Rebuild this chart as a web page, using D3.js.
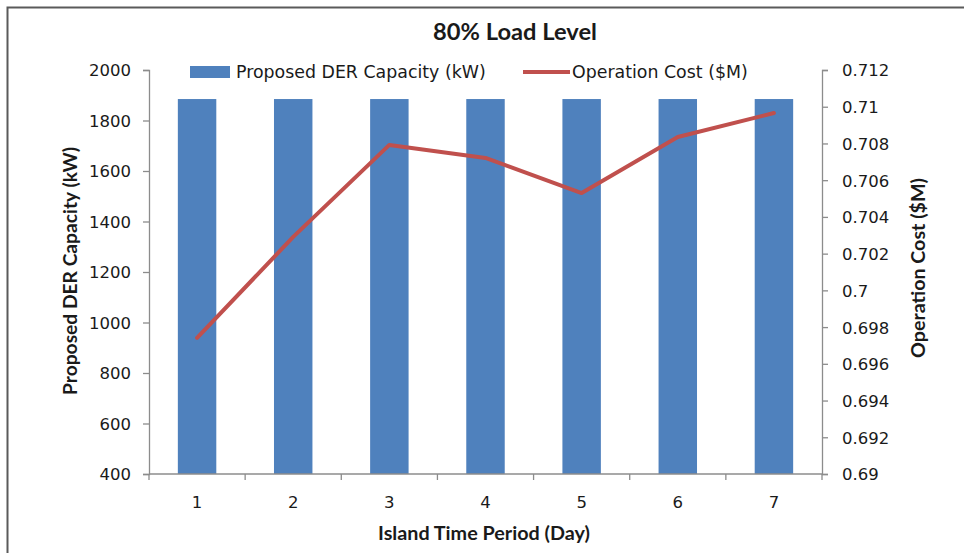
<!DOCTYPE html>
<html>
<head>
<meta charset="utf-8">
<script src="https://cdn.jsdelivr.net/npm/d3@7"></script>
<style>
  html, body { margin: 0; padding: 0; background: #fff; }
  svg { display: block; }
  text { fill: #1a1a1a; }
</style>
</head>
<body>
<svg id="chart" width="964" height="553"></svg>
<script>
// Island duration in days
const days = ["1", "2", "3", "4", "5", "6", "7"];
// Proposed DER capacity (kW) for each island duration
const derCapacity = [1885, 1885, 1885, 1885, 1885, 1885, 1885];
// Operation cost ($M) for each island duration
const operationCost = [0.69741, 0.70291, 0.70792, 0.70721, 0.7053, 0.70835, 0.70966];
// Axis tick values
const leftTicks = [400, 600, 800, 1000, 1200, 1400, 1600, 1800, 2000];
const rightTicks = [0.69, 0.692, 0.694, 0.696, 0.698, 0.7, 0.702, 0.704, 0.706, 0.708, 0.71, 0.712];

const svg = d3.select("#chart");
const W = 964, H = 553;
const margin = { left: 149, right: 142, top: 70, bottom: 79 };
const x0 = margin.left, x1 = W - margin.right;
const y0 = H - margin.bottom, y1 = margin.top;

const barColor = "#4f81bd";
const lineColor = "#c0504d";
const axisColor = "#8c8c8c";
const tickFont = '"DejaVu Sans", Verdana, sans-serif';
const titleFont = 'Lato, "Open Sans", sans-serif';

// Size a text element so that it spans the given width
function fitWidth(sel, width) {
  const base = 16;
  sel.attr("font-size", base);
  const len = sel.node().getComputedTextLength();
  sel.attr("font-size", base * width / len);
  return sel;
}

// Outer frame (top and left edges)
svg.append("path")
  .attr("d", `M7.5,${H} L7.5,7.5 L${W},7.5`)
  .attr("fill", "none").attr("stroke", "#5a5a5a").attr("stroke-width", 2);

const x = d3.scaleBand().domain(days).range([x0, x1]).paddingInner(0.6).paddingOuter(0.3);
const xPoint = d => x(d) + x.bandwidth() / 2;
const yL = d3.scaleLinear().domain([400, 2000]).range([y0, y1]);
const yR = d3.scaleLinear().domain([0.69, 0.712]).range([y0, y1]);

// Bars
svg.append("g").selectAll("rect").data(days).join("rect")
  .attr("x", d => x(d))
  .attr("y", (d, i) => yL(derCapacity[i]))
  .attr("width", x.bandwidth())
  .attr("height", (d, i) => yL(400) - yL(derCapacity[i]))
  .attr("fill", barColor);

// Operation cost line
const line = d3.line().x(d => xPoint(d.day)).y(d => yR(d.v));
svg.append("path")
  .datum(days.map((d, i) => ({ day: d, v: operationCost[i] })))
  .attr("d", line)
  .attr("fill", "none").attr("stroke", lineColor)
  .attr("stroke-width", 4).attr("stroke-linejoin", "round").attr("stroke-linecap", "round");

function styleAxis(g) {
  g.selectAll("path, line").attr("stroke", axisColor).attr("stroke-width", 1.3);
  g.selectAll("text").attr("font-size", 16.5).attr("fill", "#1a1a1a")
    .attr("dy", "0.36em").style("font-family", tickFont);
}

// Left axis
svg.append("g").attr("transform", `translate(${x0},0)`)
  .call(d3.axisLeft(yL).tickValues(leftTicks).tickSize(6).tickSizeOuter(6).tickPadding(12).tickFormat(d3.format("d")))
  .call(styleAxis);

// Right axis
svg.append("g").attr("transform", `translate(${x1},0)`)
  .call(d3.axisRight(yR).tickValues(rightTicks).tickSize(6).tickSizeOuter(6).tickPadding(14).tickFormat(d => String(+d.toFixed(3))))
  .call(styleAxis);

// Bottom axis: ticks sit at band boundaries, labels at band centres
const xAxisG = svg.append("g").attr("transform", `translate(0,${y0})`);
xAxisG.append("line").attr("x1", x0).attr("x2", x1).attr("y1", 0).attr("y2", 0)
  .attr("stroke", axisColor).attr("stroke-width", 1.3);
const step = x.step();
const bounds = d3.range(days.length + 1).map(i => x0 + i * step);
xAxisG.selectAll("line.tk").data(bounds).join("line").attr("class", "tk")
  .attr("x1", d => d).attr("x2", d => d).attr("y1", 0).attr("y2", 6)
  .attr("stroke", axisColor).attr("stroke-width", 1.3);
xAxisG.selectAll("text").data(days).join("text")
  .attr("x", d => xPoint(d)).attr("y", 34)
  .attr("text-anchor", "middle").attr("font-size", 16.5)
  .style("font-family", tickFont).text(d => d);

// Title
fitWidth(svg.append("text").attr("x", 515).attr("y", 40).attr("text-anchor", "middle")
  .style("font-family", titleFont).attr("font-weight", "bold").text("80% Load Level"), 164);

// Axis titles
fitWidth(svg.append("text").attr("x", 484).attr("y", 540).attr("text-anchor", "middle")
  .style("font-family", titleFont).attr("font-weight", "bold").text("Island Time Period (Day)"), 212);
fitWidth(svg.append("text").attr("transform", "translate(77,271) rotate(-90)").attr("text-anchor", "middle")
  .style("font-family", titleFont).attr("font-weight", "bold").text("Proposed DER Capacity (kW)"), 248);
fitWidth(svg.append("text").attr("transform", "translate(925,268) rotate(-90)").attr("text-anchor", "middle")
  .style("font-family", titleFont).attr("font-weight", "bold").text("Operation Cost ($M)"), 180);

// Legend
const lg = svg.append("g");
lg.append("rect").attr("x", 190).attr("y", 66).attr("width", 40).attr("height", 12).attr("fill", barColor);
fitWidth(lg.append("text").attr("x", 236).attr("y", 78).style("font-family", tickFont)
  .text("Proposed DER Capacity (kW)"), 250);
lg.append("line").attr("x1", 523).attr("x2", 570).attr("y1", 72).attr("y2", 72)
  .attr("stroke", lineColor).attr("stroke-width", 4);
fitWidth(lg.append("text").attr("x", 572).attr("y", 78).style("font-family", tickFont)
  .text("Operation Cost ($M)"), 176);
</script>
</body>
</html>
